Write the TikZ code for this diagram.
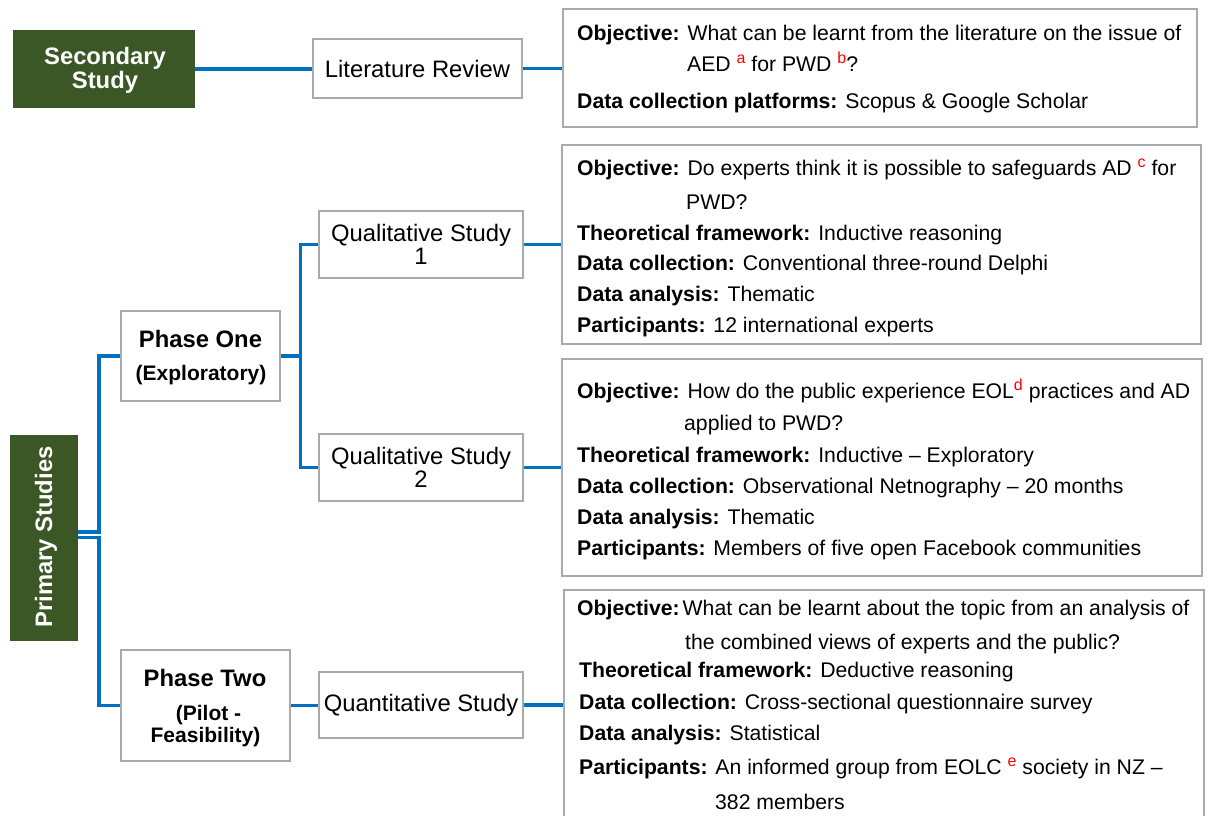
\documentclass[tikz,border=0pt]{standalone}
\usepackage{fontspec}
\setmainfont{Liberation Sans}
\usetikzlibrary{backgrounds}
\definecolor{dkgreen}{RGB}{60,87,38}
\definecolor{lnblue}{RGB}{0,112,192}
\definecolor{bxgray}{RGB}{170,170,170}
\newcommand{\sups}[1]{\raisebox{8pt}{\fontsize{16}{16}\selectfont\color{red}#1}}
\begin{document}
\begin{tikzpicture}[x=1pt,y=-1pt,
 conn/.style={draw=lnblue,line width=3.5pt},
 gbox/.style={fill=dkgreen,inner sep=0pt},
 gtext/.style={text=white,font=\bfseries\fontsize{23.8}{24}\selectfont,inner sep=0pt},
 mbox/.style={draw=bxgray,line width=2.5pt,fill=white,inner sep=0pt,align=center,font=\fontsize{23.8}{23}\selectfont},
 btext/.style={inner sep=0pt,anchor=base,font=\bfseries\fontsize{23.8}{24}\selectfont},
 bsmall/.style={inner sep=0pt,anchor=base,font=\bfseries\fontsize{21}{22}\selectfont},
 dbox/.style={draw=bxgray,line width=2.5pt,fill=white,inner sep=0pt},
 dtext/.style={inner sep=0pt,anchor=base west,font=\fontsize{21.2}{24}\selectfont},
]
\useasboundingbox (0,0) rectangle (1208,816);

% left green boxes
\node[gbox,minimum width=182pt,minimum height=78pt] (sec) at (104,69) {};
\node[gtext,anchor=base] (secA) at (105,65) {Secondary};
\node[gtext,anchor=base] (secB) at (105,88.5) {Study};
\node[gbox,minimum width=68pt,minimum height=206pt] (prim) at (44,538) {};
\node[gtext,rotate=90] (primT) at (46,537) {Primary Studies};

% middle boxes
\node[mbox,minimum width=209pt,minimum height=59pt] (lit) at (417.5,68.5) {Literature Review};
\node[mbox,minimum width=159pt,minimum height=90pt] (ph1) at (200.5,356) {};
\node[btext] (ph1a) at (200.5,347.5) {Phase One};
\node[bsmall] (ph1b) at (201,380.5) {(Exploratory)};
\node[mbox,minimum width=169pt,minimum height=111pt] (ph2) at (205.5,705.5) {};
\node[btext] (ph2a) at (205,686.5) {Phase Two};
\node[bsmall] (ph2b) at (208.5,720.5) {(Pilot -};
\node[bsmall] (ph2c) at (205.5,742.5) {Feasibility)};
\node[mbox,minimum width=204pt,minimum height=67pt] (q1) at (421,244.5) {Qualitative Study\\1};
\node[mbox,minimum width=204pt,minimum height=67pt] (q2) at (421,467.5) {Qualitative Study\\2};
\node[mbox,minimum width=204pt,minimum height=66pt] (qt) at (421,705) {Quantitative Study};

% detail boxes
\node[dbox,minimum width=634pt,minimum height=118pt] (b1) at (880,68) {};
\node[dbox,minimum width=639pt,minimum height=199pt] (b2) at (881.5,244.5) {};
\node[dbox,minimum width=640pt,minimum height=217pt] (b3) at (882,467.5) {};
\node[dbox,minimum width=640pt,minimum height=240pt] (b4) at (884,710) {};

% box 1 text
\node[dtext] (t1a) at (577,41) {\textbf{Objective:} What can be learnt from the literature on the issue of};
\node[dtext] (t1b) at (687,71) {AED \sups{a} for PWD \sups{b}?};
\node[dtext] (t1c) at (577,109) {\textbf{Data collection platforms:} Scopus \& Google Scholar};

% box 2 text
\node[dtext] (t2a) at (577,175.5) {\textbf{Objective:} Do experts think it is possible to safeguards AD \sups{c} for};
\node[dtext] (t2b) at (686,209.5) {PWD?};
\node[dtext] (t2c) at (577,240.5) {\textbf{Theoretical framework:} Inductive reasoning};
\node[dtext] (t2d) at (577,270.5) {\textbf{Data collection:} Conventional three-round Delphi};
\node[dtext] (t2e) at (577,301.5) {\textbf{Data analysis:} Thematic};
\node[dtext] (t2f) at (577,332.5) {\textbf{Participants:} 12 international experts};

% box 3 text
\node[dtext] (t3a) at (577,398.5) {\textbf{Objective:} How do the public experience EOL\sups{d} practices and AD};
\node[dtext] (t3b) at (684,430.5) {applied to PWD?};
\node[dtext] (t3c) at (577,462.5) {\textbf{Theoretical framework:} Inductive – Exploratory};
\node[dtext] (t3d) at (577,493.5) {\textbf{Data collection:} Observational Netnography – 20 months};
\node[dtext] (t3e) at (577,524.5) {\textbf{Data analysis:} Thematic};
\node[dtext] (t3f) at (577,555.5) {\textbf{Participants:} Members of five open Facebook communities};

% box 4 text
\node[dtext] (t4a) at (577,615.5) {\textbf{Objective:}\hspace{3pt}What can be learnt about the topic from an analysis of};
\node[dtext] (t4b) at (685,649.5) {the combined views of experts and the public?};
\node[dtext] (t4c) at (579,677.5) {\textbf{Theoretical framework:} Deductive reasoning};
\node[dtext] (t4d) at (579,709.5) {\textbf{Data collection:} Cross-sectional questionnaire survey};
\node[dtext] (t4e) at (579,740.5) {\textbf{Data analysis:} Statistical};
\node[dtext] (t4f) at (579,774.5) {\textbf{Participants:} An informed group from EOLC \sups{e} society in NZ –};
\node[dtext] (t4g) at (715,809.5) {382 members};

% connectors
\begin{scope}[on background layer]
\draw[conn] (sec.east) -- (sec.east -| lit.west);
\draw[conn] (lit.east) -- (lit.east -| b1.west);
\draw[conn] ([yshift=6pt]prim.east) -- ++(21,0) |- (ph1.west);
\draw[conn] ([yshift=0.5pt]prim.east) -- ++(21,0) |- (ph2.west);
\draw[conn] (ph1.east) -- ++(19,0);
\draw[conn] (q1.west) -| ([xshift=19pt]ph1.east) |- (q2.west);
\draw[conn] (ph2.east) -- (ph2.east -| qt.west);
\draw[conn] (q1.east) -- (q1.east -| b2.west);
\draw[conn] (q2.east) -- (q2.east -| b3.west);
\draw[conn] (qt.east) -- (qt.east -| b4.west);
\end{scope}
\end{tikzpicture}
\end{document}
